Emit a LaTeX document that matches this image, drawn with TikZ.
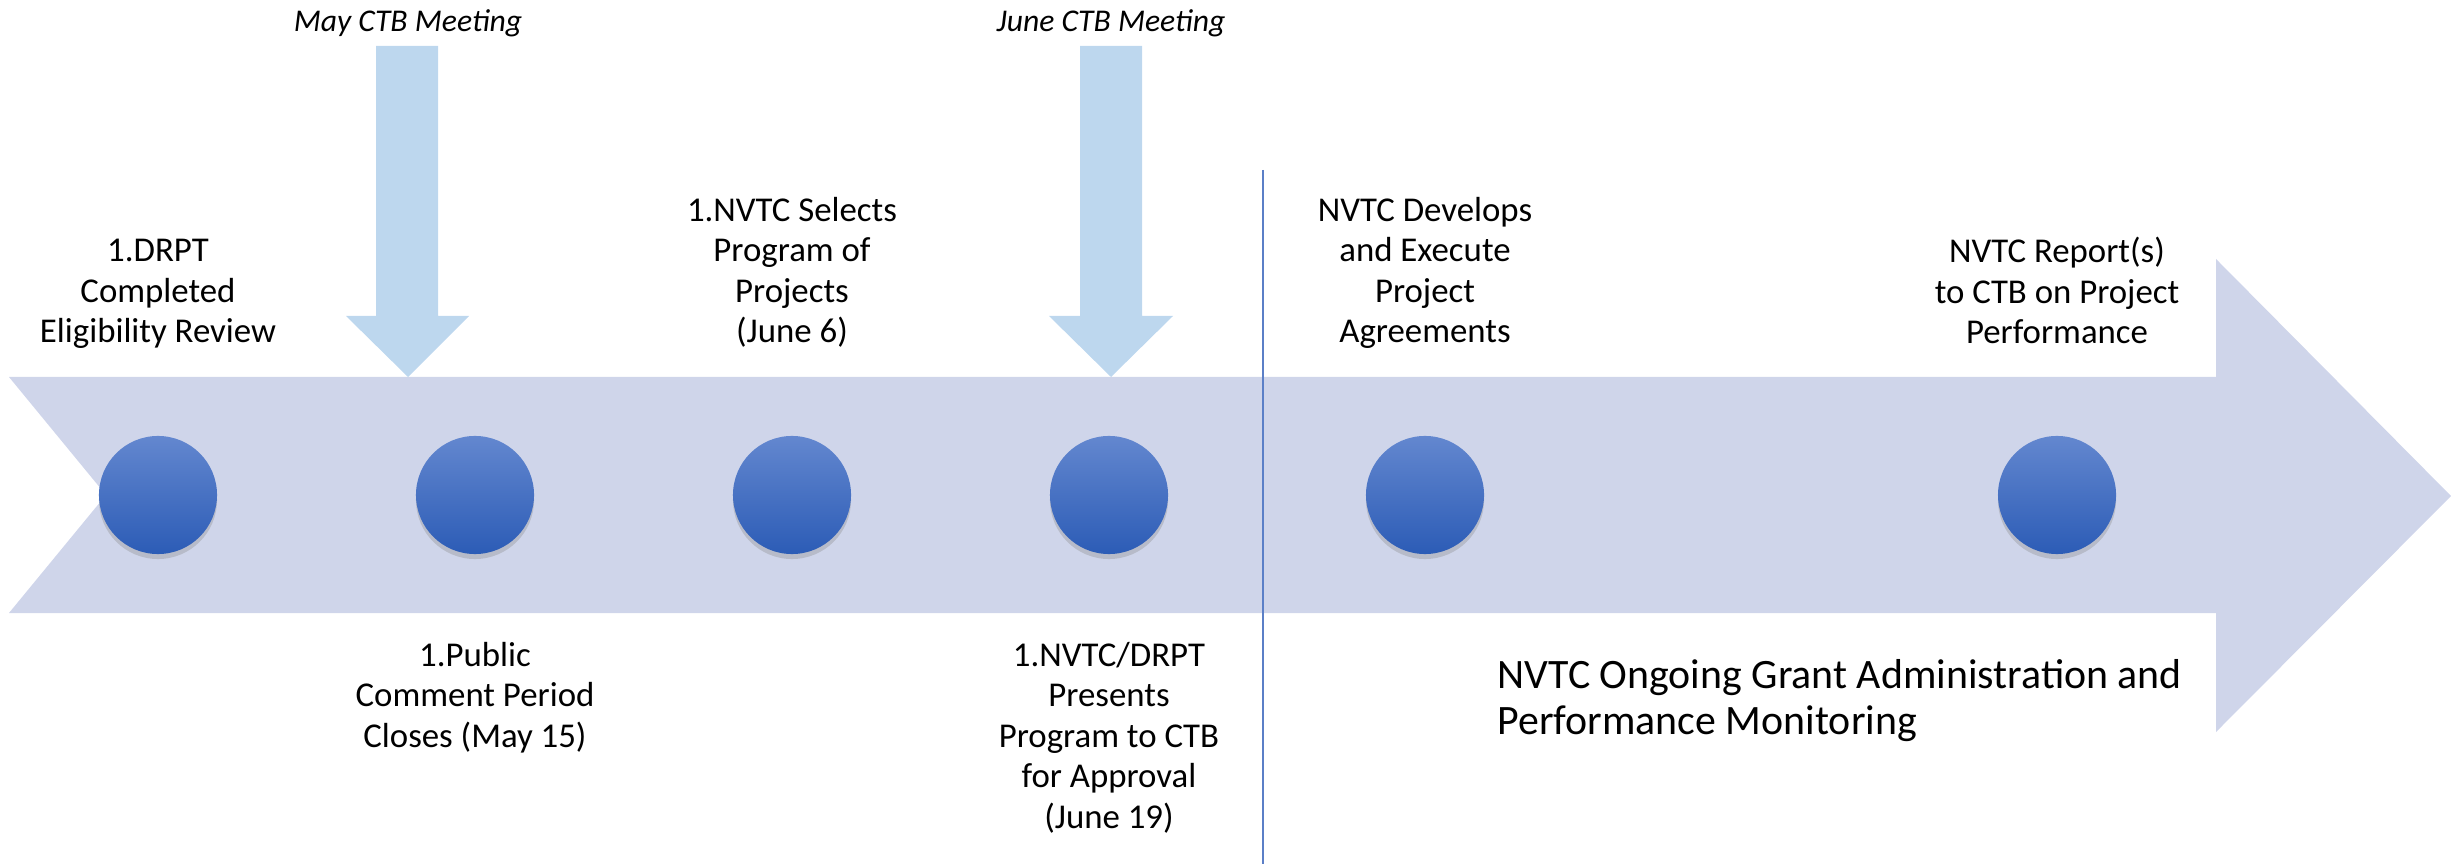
\documentclass[tikz,border=0pt]{standalone}
\usepackage{fontspec}
\setmainfont{Carlito}
\usetikzlibrary{positioning,shadows}
\definecolor{band}{RGB}{207,213,234}
\definecolor{meet}{RGB}{189,215,238}
\definecolor{divider}{RGB}{91,127,199}
\definecolor{dottop}{RGB}{99,135,207}
\definecolor{dotbot}{RGB}{44,92,182}

\begin{document}
\begin{tikzpicture}[x=0.01cm, y=-0.01cm,
  milestone/.style={circle, minimum size=1.18cm, inner sep=0pt, top color=dottop, bottom color=dotbot,
    drop shadow={shadow xshift=0pt, shadow yshift=-0.05cm, opacity=0.3}},
  lbl/.style={align=center, inner sep=0pt, text depth=0pt, font=\fontsize{9.9}{11.5}\selectfont},
  meeting/.style={inner sep=0pt, font=\fontsize{9}{11}\selectfont\itshape}]
\useasboundingbox (0,0) rectangle (2451,864);

% timeline band
\fill[band] (9,377) -- (2216,377) -- (2216,259) -- (2451,496) -- (2216,732) -- (2216,613) -- (9,613) -- (106,495) -- cycle;

% CTB meetings
\fill[meet] (376,46) -- (438,46) -- (438,316) -- (469,316) -- (408,377) -- (346,316) -- (376,316) -- cycle;
\fill[meet] (1080,46) -- (1142,46) -- (1142,316) -- (1173,316) -- (1111,377) -- (1049,316) -- (1080,316) -- cycle;
\node[meeting, anchor=base] (may) at (408,32) {May CTB Meeting};
\node[meeting, anchor=base] (june) at (1111,32) {June CTB Meeting};

\draw[divider, line width=0.5pt] (1263,170) -- (1263,864);

\node[milestone] (c1) at (158,495) {};
\node[milestone] (c2) at (475,495) {};
\node[milestone] (c3) at (792,495) {};
\node[milestone] (c4) at (1109,495) {};
\node[milestone] (c5) at (1425,495) {};
\node[milestone] (c6) at (2057,495) {};

\node[lbl, above=0.92cm of c1] (drpt) {1.DRPT\\Completed\\Eligibility Review};
\node[lbl, above=0.92cm of c3] (selects) {1.NVTC Selects\\Program of\\Projects\\(June 6)};
\node[lbl, above=0.92cm of c5] (develops) {NVTC Develops\\and Execute\\Project\\Agreements};
\node[lbl, above=0.91cm of c6] (report) {NVTC Report(s)\\to CTB on Project\\Performance};
\node[lbl, below=1.93cm of c2, anchor=south] (public) {1.Public\\Comment Period\\Closes (May 15)};
\node[lbl, below=2.74cm of c4, anchor=south] (presents) {1.NVTC/DRPT\\Presents\\Program to CTB\\for Approval\\(June 19)};
\node[align=left, inner sep=0pt, text depth=0pt, anchor=south west, font=\fontsize{11.9}{13.1}\selectfont] (ongoing) at (1497,735) {NVTC Ongoing Grant Administration and\\Performance Monitoring};
\end{tikzpicture}
\end{document}
